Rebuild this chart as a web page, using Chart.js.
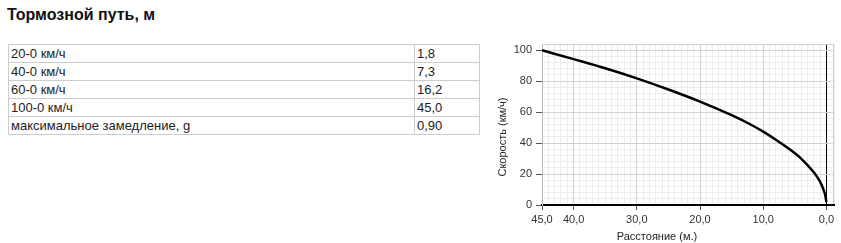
<!DOCTYPE html>
<html>
<head>
<meta charset="utf-8">
<script src="https://cdn.jsdelivr.net/npm/chart.js@4"></script>
<style>
body{margin:0;background:#fff;font-family:Arial,'Liberation Sans',sans-serif;width:841px;height:243px;overflow:hidden;position:relative}
h1{position:absolute;left:7px;top:5px;margin:0;font-size:16px;font-weight:bold;color:#111;line-height:20px}
table{position:absolute;left:8px;top:44px;border-collapse:collapse;table-layout:fixed;width:471px;font-size:13px;color:#222}
td{border:1px solid #ccc;padding:0 2px;height:17px;line-height:17px;white-space:nowrap}
#wrap{position:absolute;left:490px;top:0;width:351px;height:243px}
.axt{position:absolute;width:120px;height:14px;font-size:11px;line-height:14px;color:#222;white-space:nowrap;text-align:center}
</style>
</head>
<body>
<h1>Тормозной путь, м</h1>
<table>
<colgroup><col style="width:406px"><col style="width:65px"></colgroup>
<tbody id="rows"></tbody>
</table>
<div id="wrap"><canvas id="brake"></canvas></div>
<div class="axt" id="xt" style="left:597px;top:229px">Расстояние (м.)</div>
<div class="axt" id="yt" style="left:442px;top:130px;transform:rotate(-90deg)">Скорость (км/ч)</div>
<script>
// таблица
var rowLabels = ['20-0 км/ч', '40-0 км/ч', '60-0 км/ч', '100-0 км/ч', 'максимальное замедление, g'];
var rowValues = ['1,8', '7,3', '16,2', '45,0', '0,90'];

// кривая торможения
var distances = [0, 0.2, 0.5, 1, 1.5, 2, 3, 4, 6, 8, 10, 12, 15, 20, 25, 30, 35, 40, 45];
var speeds = [2, 6.5, 10.3, 15, 18.3, 21.1, 25.8, 30, 36.5, 42.2, 47.4, 52, 58, 66.8, 74.6, 81.8, 88.3, 94.2, 100];
var xTicks = [45, 40, 30, 20, 10, 0];
var yTicks = [0, 20, 40, 60, 80, 100];

var tbody = document.getElementById('rows');
rowLabels.forEach(function (l, i) {
    var tr = document.createElement('tr');
    tr.innerHTML = '<td>' + l + '</td><td>' + rowValues[i] + '</td>';
    tbody.appendChild(tr);
});

var font = { family: "Arial, 'Liberation Sans', sans-serif", size: 11 };

var frame = {
    id: 'frame',
    beforeDatasetsDraw: function (chart) {
        var a = chart.chartArea, c = chart.ctx;
        c.save();
        c.strokeStyle = '#cfcfcf';
        c.lineWidth = 1;
        c.beginPath();
        c.moveTo(Math.round(a.left), Math.round(a.top) + 0.5);
        c.lineTo(Math.round(a.right), Math.round(a.top) + 0.5);
        c.moveTo(Math.round(a.right) - 0.5, Math.round(a.top));
        c.lineTo(Math.round(a.right) - 0.5, Math.round(a.bottom) - 1);
        c.stroke();
        c.restore();
    }
};

new Chart(document.getElementById('brake').getContext('2d'), {
    type: 'line',
    data: {
        datasets: [{
            data: distances.map(function (d, i) { return { x: d, y: speeds[i] }; }),
            borderColor: '#000',
            borderWidth: 2.5,
            pointRadius: 0,
            cubicInterpolationMode: 'monotone',
            fill: false
        }]
    },
    options: {
        responsive: true,
        maintainAspectRatio: false,
        animation: false,
        layout: { padding: { top: 44, right: 7, left: 0, bottom: 0 } },
        plugins: { legend: { display: false }, tooltip: { enabled: false } },
        scales: {
            xMinor: {
                type: 'linear', position: 'bottom', reverse: true, min: -1.2, max: 45, z: -1,
                ticks: { display: false, stepSize: 1 },
                grid: { color: '#ececec', drawTicks: false },
                border: { display: false },
                afterFit: function (s) { s.height = 0; }
            },
            yMinor: {
                type: 'linear', position: 'left', min: 0, max: 104, z: -1,
                ticks: { display: false, stepSize: 4 },
                grid: { color: '#ececec', drawTicks: false },
                border: { display: false },
                afterFit: function (s) { s.width = 0; }
            },
            x: {
                type: 'linear', position: 'bottom', reverse: true, min: -1.2, max: 45,
                afterBuildTicks: function (s) { s.ticks = xTicks.map(function (v) { return { value: v }; }); },
                ticks: {
                    color: '#333', font: font, padding: 3, maxRotation: 0, autoSkip: false,
                    callback: function (v) { return v.toFixed(1).replace('.', ','); }
                },
                grid: {
                    color: function (c) { return c.tick && c.tick.value === 0 ? '#000' : '#d2d2d2'; },
                    tickColor: '#555', tickLength: 5
                },
                border: { color: '#000', width: 2 },
                afterFit: function (s) { s.height = 38; }
            },
            y: {
                type: 'linear', position: 'left', min: 0, max: 104,
                afterBuildTicks: function (s) { s.ticks = yTicks.map(function (v) { return { value: v }; }); },
                ticks: { color: '#333', font: font, padding: 4 },
                grid: {
                    color: function (c) { return c.tick && c.tick.value === 0 ? '#000' : '#d2d2d2'; },
                    tickColor: '#555', tickLength: 6
                },
                border: { color: '#bbb', width: 1 },
                afterFit: function (s) { s.width = 52; }
            }
        }
    },
    plugins: [frame]
});
</script>
</body>
</html>
